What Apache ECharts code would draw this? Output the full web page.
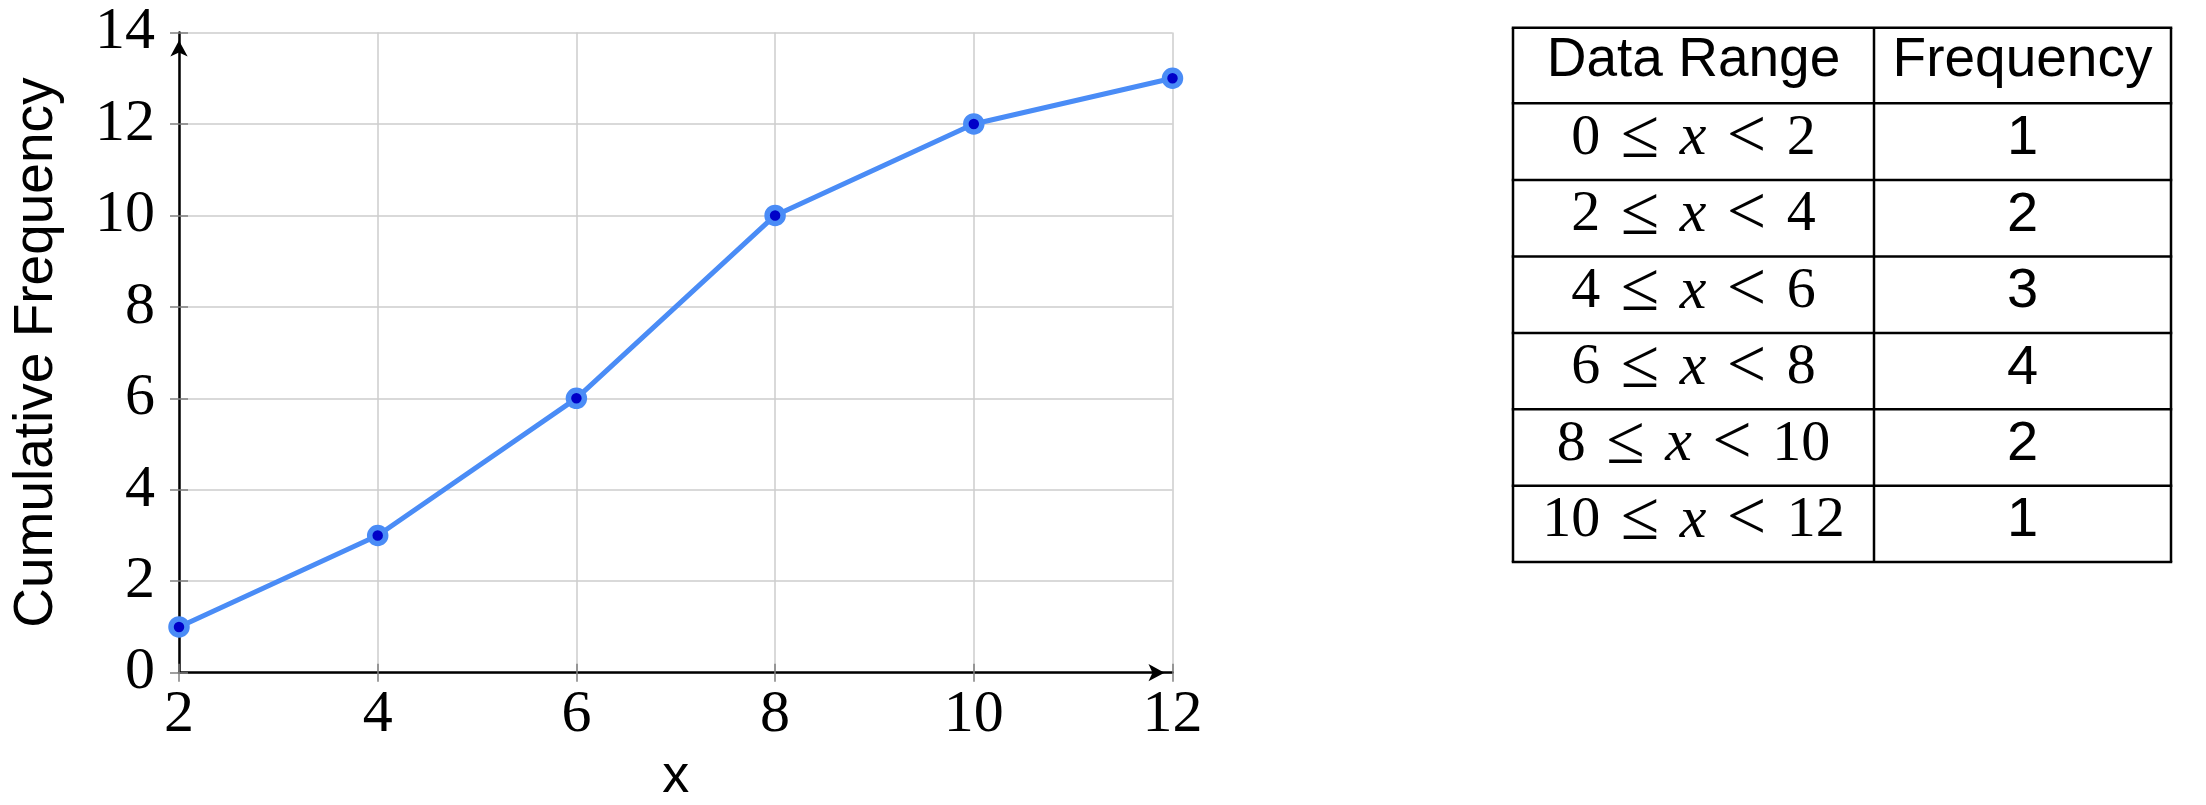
<!DOCTYPE html>
<html><head><meta charset="utf-8">
<script src="https://cdn.jsdelivr.net/npm/echarts@6/dist/echarts.min.js"></script>
<style>html,body{margin:0;padding:0;background:#fff}#c{width:2206px;height:805px}</style>
</head><body><div id="c"></div>
<script>
// ---- data ----
const xValues = [2, 4, 6, 8, 10, 12];
const cumulativeFrequency = [1, 3, 6, 10, 12, 13];
const xTickSpec = [2, 12, 2];   // min, max, interval
const yTickSpec = [0, 14, 2];
const rangeLower = [0, 2, 4, 6, 8, 10];
const rangeUpper = [2, 4, 6, 8, 10, 12];
const frequencies = [1, 2, 3, 4, 2, 1];
const tableHeaders = ['Data Range', 'Frequency'];
const xAxisName = 'x';
const yAxisName = 'Cumulative Frequency';

// ---- styles ----
const SERIF = 'Liberation Serif';
const SANS = 'Liberation Sans';
const LINE_BLUE = '#4a8cf6';
const DOT_BLUE = '#0000c8';

const chart = echarts.init(document.getElementById('c'), null, {renderer: 'canvas'});

// table layout
const tLeft = 1513, tMid = 1874, tRight = 2171;
const rowYs = [27.7, 103.3, 180, 256.5, 333, 409.3, 485.7, 562];
const graphics = [];
rowYs.forEach(y => graphics.push({
  type: 'line', shape: {x1: tLeft - 1.25, y1: y, x2: tRight + 1.25, y2: y},
  style: {stroke: '#000', lineWidth: 2.5}
}));
[tLeft, tMid, tRight].forEach(x => graphics.push({
  type: 'line', shape: {x1: x, y1: rowYs[0], x2: x, y2: rowYs[rowYs.length - 1]},
  style: {stroke: '#000', lineWidth: 2.5}
}));
const c1 = (tLeft + tMid) / 2, c2 = (tMid + tRight) / 2;
const rowMid = i => (rowYs[i] + rowYs[i + 1]) / 2;
graphics.push({type: 'text', x: c1, y: rowMid(0) - 5,
  style: {text: tableHeaders[0], font: '55px "' + SANS + '"', fill: '#000', align: 'center', verticalAlign: 'middle'}});
graphics.push({type: 'text', x: c2, y: rowMid(0) - 5,
  style: {text: tableHeaders[1], font: '55px "' + SANS + '"', fill: '#000', align: 'center', verticalAlign: 'middle'}});
const rich = {
  n: {fontFamily: SERIF, fontSize: 58, fill: '#000'},
  rel: {fontFamily: SERIF, fontSize: 70, fill: '#000', padding: [0, 3]},
  v: {fontFamily: SERIF, fontSize: 60, fontStyle: 'italic', fill: '#000'}
};
rangeLower.forEach((lo, i) => {
  graphics.push({type: 'text', x: c1, y: rowMid(i + 1) - 3,
    style: {text: '{n|' + lo + '}{rel| \u2264 }{v|x}{rel| < }{n|' + rangeUpper[i] + '}', rich: rich,
      align: 'center', verticalAlign: 'middle'}});
  graphics.push({type: 'text', x: c2, y: rowMid(i + 1) - 3,
    style: {text: String(frequencies[i]), font: '56px "' + SANS + '"', fill: '#000', align: 'center', verticalAlign: 'middle'}});
});

const tickStyle = {show: true, length: 9, lineStyle: {color: '#808080', width: 1.5}};

chart.setOption({
  animation: false,
  backgroundColor: '#fff',
  grid: {left: 179, right: 2206 - 1172.5, top: 32.5, bottom: 805 - 672.7, containLabel: false, outerBoundsMode: 'none'},
  xAxis: [{
    type: 'value', min: xTickSpec[0], max: xTickSpec[1], interval: xTickSpec[2],
    name: xAxisName, nameLocation: 'middle', nameGap: 68,
    nameTextStyle: {fontFamily: SANS, fontSize: 54, color: '#000'},
    axisLine: {show: true, onZero: false, symbol: ['none', 'arrow'], symbolSize: [13, 16], symbolOffset: [0, -8],
      lineStyle: {color: '#000', width: 2.5}},
    axisTick: tickStyle,
    axisLabel: {fontFamily: SERIF, fontSize: 60, color: '#000', margin: 13},
    splitLine: {show: true, lineStyle: {color: '#cccccc', width: 1.5}}
  }, {
    type: 'value', min: xTickSpec[0], max: xTickSpec[1], interval: xTickSpec[2], position: 'bottom',
    axisLine: {show: false}, axisTick: Object.assign({inside: true}, tickStyle),
    axisLabel: {show: false}, splitLine: {show: false}
  }],
  yAxis: [{
    type: 'value', min: yTickSpec[0], max: yTickSpec[1], interval: yTickSpec[2],
    name: yAxisName, nameLocation: 'middle', nameGap: 115, nameRotate: 90,
    nameTextStyle: {fontFamily: SANS, fontSize: 55, color: '#000'},
    axisLine: {show: true, onZero: false, symbol: ['none', 'arrow'], symbolSize: [13, 16], symbolOffset: [0, -8],
      lineStyle: {color: '#000', width: 2.5}},
    axisTick: tickStyle,
    axisLabel: {fontFamily: SERIF, fontSize: 60, color: '#000', margin: 24},
    splitLine: {show: true, lineStyle: {color: '#cccccc', width: 1.5}}
  }, {
    type: 'value', min: yTickSpec[0], max: yTickSpec[1], interval: yTickSpec[2], position: 'left',
    axisLine: {show: false}, axisTick: Object.assign({inside: true}, tickStyle),
    axisLabel: {show: false}, splitLine: {show: false}
  }],
  series: [{
    type: 'line', xAxisIndex: 0, yAxisIndex: 0,
    data: xValues.map((x, i) => [x, cumulativeFrequency[i]]),
    lineStyle: {color: LINE_BLUE, width: 5},
    symbol: 'circle', symbolSize: 16,
    itemStyle: {color: DOT_BLUE, borderColor: LINE_BLUE, borderWidth: 5.5},
    z: 5
  }],
  graphic: graphics
});
</script></body></html>
